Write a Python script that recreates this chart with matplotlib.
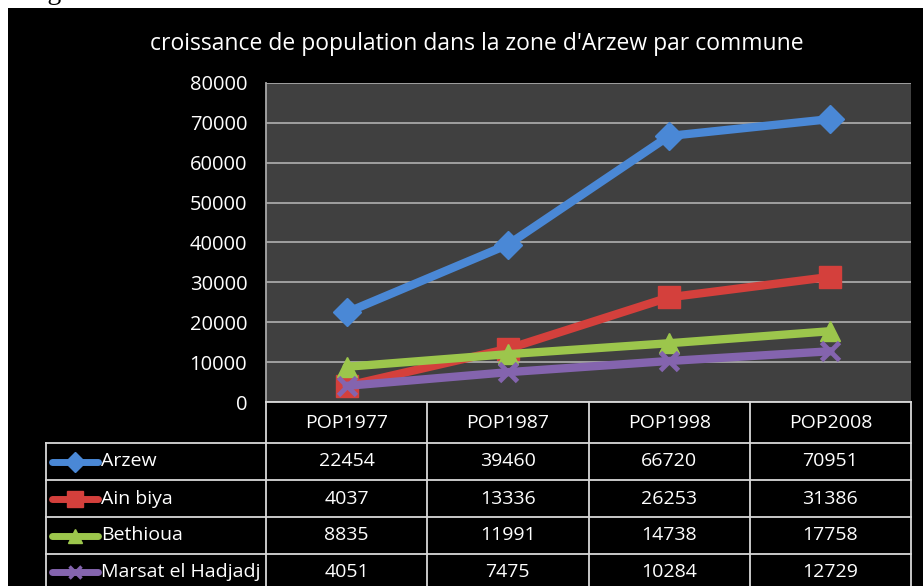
import matplotlib
matplotlib.use("Agg")
import matplotlib.pyplot as plt
from matplotlib.patches import Rectangle

title = "croissance de population dans la zone d'Arzew par commune"
categories = ["POP1977", "POP1987", "POP1998", "POP2008"]
series_names = ["Arzew", "Ain biya", "Bethioua", "Marsat el Hadjadj"]
arzew = [22454, 39460, 66720, 70951]
ain_biya = [4037, 13336, 26253, 31386]
bethioua = [8835, 11991, 14738, 17758]
marsat = [4051, 7475, 10284, 12729]
y_ticks = [0, 10000, 20000, 30000, 40000, 50000, 60000, 70000, 80000]

series = [arzew, ain_biya, bethioua, marsat]
colors = ["#4a88d6", "#d4403c", "#9cc64c", "#8464ae"]
markers = ["D", "s", "^", "x"]
msizes = [14, 16, 15, 13]

FONT = ["Open Sans", "DejaVu Sans"]
plt.rcParams["font.family"] = FONT

W, H = 923, 586
fig = plt.figure(figsize=(W / 100, H / 100), dpi=100, facecolor="white")

# overlay in pixel coords
ov = fig.add_axes([0, 0, 1, 1])
ov.set_xlim(0, W)
ov.set_ylim(H, 0)
ov.axis("off")
ov.add_patch(Rectangle((8, 8), W - 8, H - 8, facecolor="black", edgecolor="none"))
ov.text(24, -1, "Figure", color="black", fontsize=20, family=["Liberation Serif"],
        ha="left", va="baseline", clip_on=False)

# plot area
L, R, T, B = 266, 911, 83, 402
ax = fig.add_axes([L / W, 1 - B / H, (R - L) / W, (B - T) / H])
ax.set_facecolor("#404040")
x = list(range(len(categories)))
for s, c, m, ms in zip(series, colors, markers, msizes):
    ax.plot(x, s, color=c, lw=6, marker=m, ms=ms, mew=3.5 if m == "x" else 1,
            mec=c, zorder=3, solid_capstyle="round")
ax.set_xlim(-0.5, len(categories) - 0.5)
ax.set_ylim(0, 80000)
ax.set_yticks(y_ticks)
ax.set_yticklabels([str(v) for v in y_ticks], color="white", fontsize=14.5)
ax.tick_params(axis="y", length=0, pad=13.5)
ax.set_xticks([])
ax.grid(axis="y", color="#a8a8a8", lw=1.3)
ax.set_axisbelow(True)
for sp in ["top", "right", "bottom"]:
    ax.spines[sp].set_visible(False)
ax.spines["left"].set_color("#a8a8a8")
ax.spines["left"].set_linewidth(1.3)

# title
fig.text(477 / W, 1 - 44 / H, title, color="white", fontsize=16.5,
         ha="center", va="center")

# data table
tab = fig.add_axes([0, 0, 1, 1])
tab.set_xlim(0, W)
tab.set_ylim(H, 0)
tab.axis("off")
col_w = (R - L) / len(categories)
col_x = [L + i * col_w for i in range(len(categories) + 1)]
row_y = [B, 443, 480, 517, 554, 590]
lc = "#d9d9d9"
lw = 1.3
tab.plot([L, R], [row_y[0], row_y[0]], color=lc, lw=lw)
for yy in row_y[1:]:
    tab.plot([46, R], [yy, yy], color=lc, lw=lw)
tab.plot([46, 46], [row_y[1], row_y[-1]], color=lc, lw=lw)
for xx in col_x:
    tab.plot([xx, xx], [row_y[0], row_y[-1]], color=lc, lw=lw)
TFS = 14
for i, cat in enumerate(categories):
    tab.text(col_x[i] + col_w / 2, (row_y[0] + row_y[1]) / 2 + 1, cat, color="white",
             fontsize=TFS, ha="center", va="center")
for r, (name, s, c, m, ms) in enumerate(zip(series_names, series, colors, markers, msizes)):
    yc = (row_y[r + 1] + row_y[r + 2]) / 2
    tab.plot([52, 98], [yc, yc], color=c, lw=5, solid_capstyle="round")
    tab.plot([75], [yc], color=c, marker=m, ms=ms * 0.7, mew=2.5 if m == "x" else 1, mec=c)
    tab.text(101, yc, name, color="white", fontsize=TFS, ha="left", va="center")
    for i, v in enumerate(s):
        tab.text(col_x[i] + col_w / 2, yc, str(v), color="white", fontsize=TFS,
                 ha="center", va="center")

fig.savefig("out.png", dpi=100, facecolor=fig.get_facecolor())
